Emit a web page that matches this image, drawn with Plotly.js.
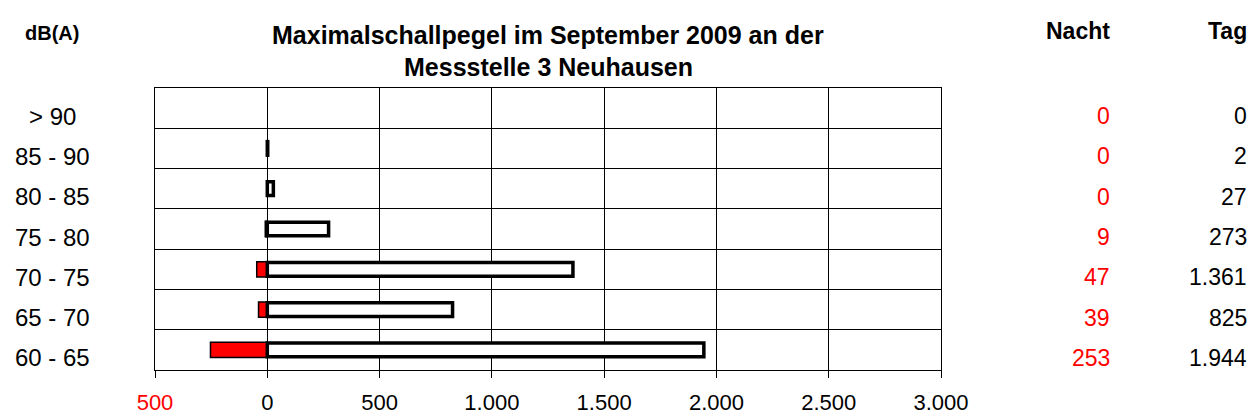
<!DOCTYPE html>
<html>
<head>
<meta charset="utf-8">
<script src="https://cdn.plot.ly/plotly-3.0.1.min.js"></script>
<style>html,body{margin:0;padding:0;background:#fff;}#chart{width:1254px;height:418px;}</style>
</head>
<body>
<div id="chart"></div>
<script>
// Data (top row first)
const categories = ['> 90', '85 - 90', '80 - 85', '75 - 80', '70 - 75', '65 - 70', '60 - 65'];
const nacht = [0, 0, 0, 9, 47, 39, 253];
const tag = [0, 2, 27, 273, 1361, 825, 1944];
const xTickVals = [-500, 0, 500, 1000, 1500, 2000, 2500, 3000];
const xTickText = ['<span style="color:#ff0000">500</span>', '0', '500', '1.000', '1.500', '2.000', '2.500', '3.000'];
const chartTitle = ['Maximalschallpegel im September 2009 an der', 'Messstelle 3 Neuhausen'];
const unitLabel = 'dB(A)';
const colHeaders = ['Nacht', 'Tag'];

function fmt(v) {
  return String(v).replace(/\B(?=(\d{3})+(?!\d))/g, '.');
}

const FONT = '"Liberation Sans", Arial, sans-serif';

const traces = [
  {
    type: 'bar', orientation: 'h', y: categories, x: nacht.map(v => -v),
    width: 0.38,
    marker: {color: '#ff0000', line: {color: '#000000', width: nacht.map(v => v === 0 ? 0 : 1.5)}},
    hoverinfo: 'skip', showlegend: false
  },
  {
    type: 'bar', orientation: 'h', y: categories, x: tag,
    width: 0.34,
    marker: {color: '#ffffff', line: {color: '#000000', width: tag.map(v => v === 0 ? 0 : 3.5)}},
    hoverinfo: 'skip', showlegend: false
  }
];

const PLOT_TOP = 88, PLOT_BOTTOM = 370, PLOT_LEFT = 155, PLOT_RIGHT = 941;
const pH = PLOT_BOTTOM - PLOT_TOP, pW = PLOT_RIGHT - PLOT_LEFT;
const px2x = px => (px - PLOT_LEFT) / pW;
const px2y = py => (PLOT_BOTTOM - py) / pH;

const annotations = [];
// left category labels
categories.forEach(c => {
  annotations.push({xref: 'paper', yref: 'y', x: px2x(52), y: c, xanchor: 'center', yanchor: 'middle',
    yshift: -8, text: c, showarrow: false, font: {family: FONT, size: 24, color: '#000'}});
});
// right value columns
categories.forEach((c, i) => {
  annotations.push({xref: 'paper', yref: 'y', x: px2x(1112), y: c, xanchor: 'right', yanchor: 'middle',
    yshift: -8, text: fmt(nacht[i]), showarrow: false, font: {family: FONT, size: 23, color: '#ff0000'}});
  annotations.push({xref: 'paper', yref: 'y', x: px2x(1249), y: c, xanchor: 'right', yanchor: 'middle',
    yshift: -8, text: fmt(tag[i]), showarrow: false, font: {family: FONT, size: 23, color: '#000'}});
});
// headers
annotations.push({xref: 'paper', yref: 'paper', x: px2x(1112), y: px2y(31), xanchor: 'right', yanchor: 'middle',
  text: '<b>' + colHeaders[0] + '</b>', showarrow: false, font: {family: FONT, size: 23, color: '#000'}});
annotations.push({xref: 'paper', yref: 'paper', x: px2x(1249), y: px2y(31), xanchor: 'right', yanchor: 'middle',
  text: '<b>' + colHeaders[1] + '</b>', showarrow: false, font: {family: FONT, size: 23, color: '#000'}});
annotations.push({xref: 'paper', yref: 'paper', x: px2x(52), y: px2y(33), xanchor: 'center', yanchor: 'middle',
  text: '<b>' + unitLabel + '</b>', showarrow: false, font: {family: FONT, size: 20, color: '#000'}});
// title lines
annotations.push({xref: 'paper', yref: 'paper', x: 0.5, y: px2y(35), xanchor: 'center', yanchor: 'middle',
  text: '<b>' + chartTitle[0] + '</b>', showarrow: false, font: {family: FONT, size: 25, color: '#000'}});
annotations.push({xref: 'paper', yref: 'paper', x: 0.5, y: px2y(67), xanchor: 'center', yanchor: 'middle',
  text: '<b>' + chartTitle[1] + '</b>', showarrow: false, font: {family: FONT, size: 25, color: '#000'}});

const layout = {
  width: 1254, height: 418,
  margin: {l: PLOT_LEFT, r: 1254 - PLOT_RIGHT, t: PLOT_TOP, b: 418 - PLOT_BOTTOM, pad: 0},
  paper_bgcolor: '#ffffff', plot_bgcolor: '#ffffff',
  barmode: 'overlay',
  font: {family: FONT, color: '#000'},
  xaxis: {
    range: [-500, 3000], tickmode: 'array', tickvals: xTickVals, ticktext: xTickText,
    showgrid: true, gridcolor: '#000000', gridwidth: 1,
    zeroline: true, zerolinecolor: '#000000', zerolinewidth: 1,
    showline: true, linecolor: '#000000', linewidth: 1, mirror: true,
    ticks: 'outside', ticklen: 7, tickcolor: '#000000', tickwidth: 1,
    ticklabelstandoff: 6,
    tickfont: {family: FONT, size: 22, color: '#000'}, fixedrange: true
  },
  yaxis: {
    type: 'category', categoryorder: 'array', categoryarray: categories,
    range: [categories.length - 0.5, -0.5], autorange: false,
    tickson: 'boundaries', showgrid: true, gridcolor: '#000000', gridwidth: 1,
    showticklabels: false, ticks: '',
    showline: true, linecolor: '#000000', linewidth: 1, mirror: true, fixedrange: true
  },
  annotations: annotations,
  showlegend: false
};

Plotly.newPlot('chart', traces, layout, {staticPlot: true, displayModeBar: false});
</script>
</body>
</html>
